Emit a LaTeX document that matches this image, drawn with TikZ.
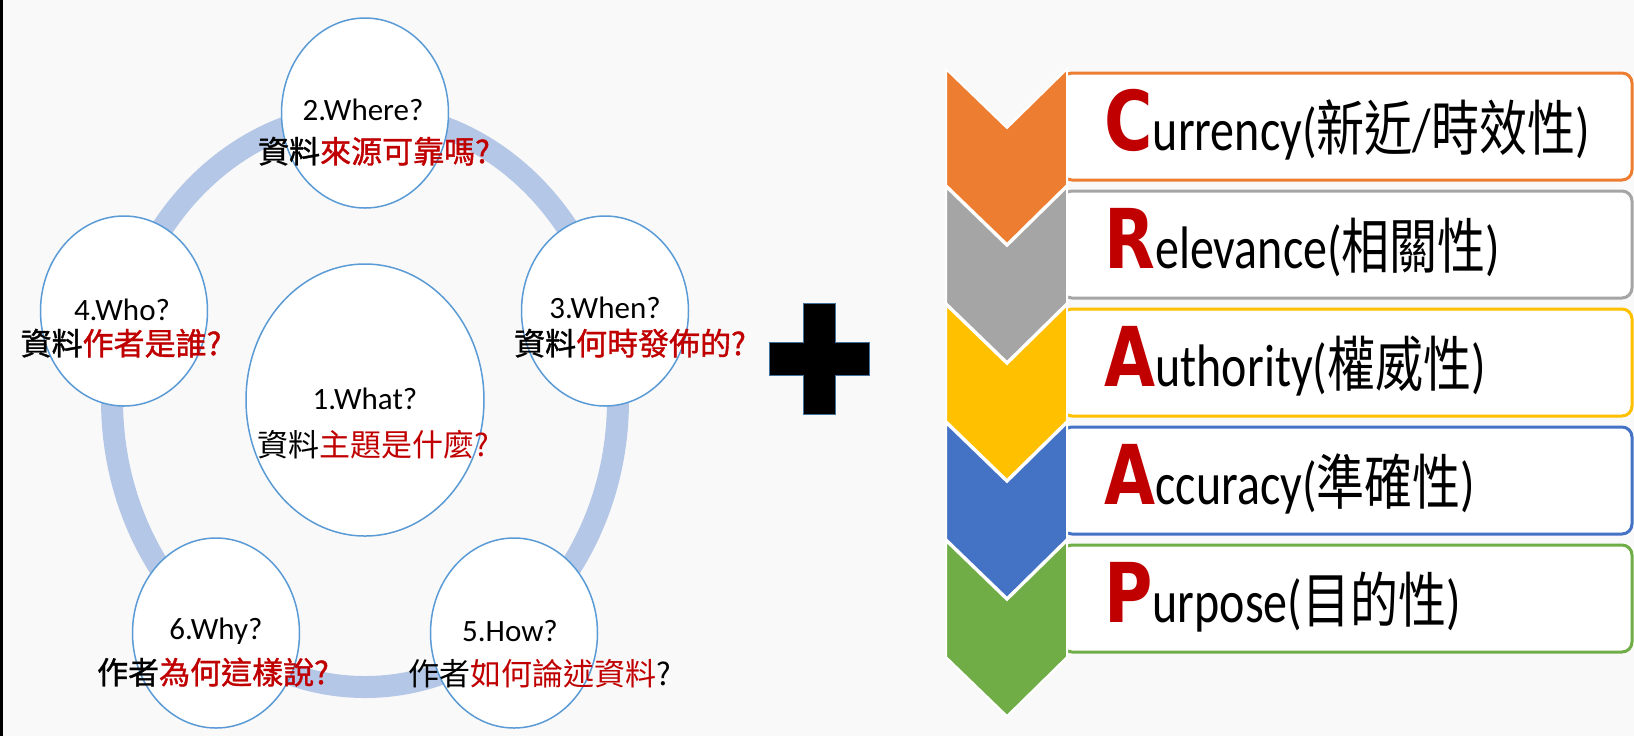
\documentclass[tikz,border=0pt]{standalone}
\usepackage{fontspec}
\setmainfont{Carlito}
\newfontfamily\cjk{Noto Sans CJK TC}
\newfontfamily\cjkb[FakeBold=1.2]{Noto Sans CJK TC}
\newfontfamily\heavy{DejaVu Sans}
\usepackage{tikz}
\usetikzlibrary{shapes,positioning}
\usepackage{xcolor}
\definecolor{crbg}{RGB}{249,249,249}
\definecolor{crring}{RGB}{180,199,231}
\definecolor{crline}{RGB}{91,155,213}
\definecolor{crred}{RGB}{192,0,0}
\definecolor{crorange}{RGB}{237,125,49}
\definecolor{crgray}{RGB}{165,165,165}
\definecolor{cryellow}{RGB}{255,192,0}
\definecolor{crblue}{RGB}{68,114,196}
\definecolor{crgreen}{RGB}{112,173,71}
\definecolor{crplus}{RGB}{65,113,156}
\tikzstyle{question} = [ellipse, draw=crline, line width=0.75pt, fill=white, minimum width=83.5pt, minimum height=95pt, inner sep=0pt]
\tikzstyle{qen} = [font=\fontsize{15.5}{18}\selectfont, text height=11pt, text depth=3pt, inner sep=0pt]
\tikzstyle{qzh} = [font=\cjk\fontsize{15.5}{18}\selectfont, text height=11pt, text depth=3pt, inner sep=0pt]
\tikzstyle{qzhb} = [font=\cjkb\fontsize{15.5}{18}\selectfont, text height=11pt, text depth=3pt, inner sep=0pt]
\tikzstyle{critbox} = [rectangle, rounded corners=5pt, fill=white, line width=1.5pt, minimum width=285pt, minimum height=53.5pt]
\tikzstyle{crittext} = [anchor=base west, inner sep=0pt, yscale=1.25, transform shape, font=\fontsize{24}{28}\selectfont]
\tikzstyle{chevron} = [draw=white, line width=1pt]
\newcommand{\redtxt}[1]{\textcolor{crred}{#1}}
\newcommand{\critinit}[1]{{\heavy\bfseries\fontsize{33}{33}\selectfont\textcolor{crred}{#1}}}

\begin{document}
\begin{tikzpicture}[x=0.5pt, y=-0.5pt]
    % Background
    \fill[crbg] (0,0) rectangle (1634,736);
    \fill[black] (0,0) rectangle (3,736);
    \useasboundingbox (0,0) rectangle (1634,736);

    % Ring
    \node[ellipse, draw=crring, line width=11pt, minimum width=253pt, minimum height=287pt] (ring) at (365,400) {};

    % Question circles
    \node[question] (where) at (365,113) {};
    \node[question] (who) at (124,311) {};
    \node[question] (when) at (605,311) {};
    \node[question] (why) at (216,633) {};
    \node[question] (how) at (514,633) {};
    \node[question, minimum width=119pt, minimum height=136pt] (what) at (365,400) {};

    % Question texts
    \node[qen] (where-en) at (363,112) {2.Where?};
    \node[qzhb] (where-zh) at (374,155) {資料\redtxt{來源可靠嗎?}};
    \node[qen] (who-en) at (122,312) {4.Who?};
    \node[qzhb] (who-zh) at (121,347) {資料\redtxt{作者是誰?}};
    \node[qen] (when-en) at (605,310) {3.When?};
    \node[qzhb] (when-zh) at (630,347) {資料\redtxt{何時發佈的?}};
    \node[qen] (what-en) at (365,401) {1.What?};
    \node[qzh] (what-zh) at (373,448) {資料\redtxt{主題是什麼?}};
    \node[qen] (why-en) at (216,631) {6.Why?};
    \node[qzhb] (why-zh) at (213,676) {作者\redtxt{為何這樣說?}};
    \node[qen] (how-en) at (510,633) {5.How?};
    \node[qzh] (how-zh) at (540,677) {作者\redtxt{如何論述資料}?};

    % Plus
    \path[fill=black, draw=crplus, line width=0.5pt] (769,342) -- (803,342) -- (803,303) -- (835,303) -- (835,342) -- (869,342) -- (869,375) -- (835,375) -- (835,414) -- (803,414) -- (803,375) -- (769,375) -- cycle;

    % CRAAP boxes
    \node[critbox, draw=crorange] (currency) at (1347,126.5) {};
    \node[critbox, draw=crgray] (relevance) at (1347,244.5) {};
    \node[critbox, draw=cryellow] (authority) at (1347,362.5) {};
    \node[critbox, draw=crblue] (accuracy) at (1347,480.5) {};
    \node[critbox, draw=crgreen] (purpose) at (1347,598.5) {};

    % Chevrons
    \path[chevron, fill=crorange] (946,69) -- (1007,128) -- (1067,69) -- (1067,185) -- (1007,244) -- (946,185) -- cycle;
    \path[chevron, fill=crgray] (946,187) -- (1007,246) -- (1067,187) -- (1067,303) -- (1007,362) -- (946,303) -- cycle;
    \path[chevron, fill=cryellow] (946,305) -- (1007,364) -- (1067,305) -- (1067,421) -- (1007,480) -- (946,421) -- cycle;
    \path[chevron, fill=crblue] (946,423) -- (1007,482) -- (1067,423) -- (1067,539) -- (1007,598) -- (946,539) -- cycle;
    \path[chevron, fill=crgreen] (946,541) -- (1007,600) -- (1067,541) -- (1067,657) -- (1007,716) -- (946,657) -- cycle;

    % CRAAP texts
    \node[crittext] (currency-t) at (1104,150) {\critinit{C}urrency({\cjk 新近}/{\cjk 時效性})};
    \node[crittext] (relevance-t) at (1104,268) {\critinit{R}elevance({\cjk 相關性})};
    \node[crittext] (authority-t) at (1104,386) {\critinit{A}uthority({\cjk 權威性})};
    \node[crittext] (accuracy-t) at (1104,504) {\critinit{A}ccuracy({\cjk 準確性})};
    \node[crittext] (purpose-t) at (1104,622) {\critinit{P}urpose({\cjk 目的性})};
\end{tikzpicture}
\end{document}
